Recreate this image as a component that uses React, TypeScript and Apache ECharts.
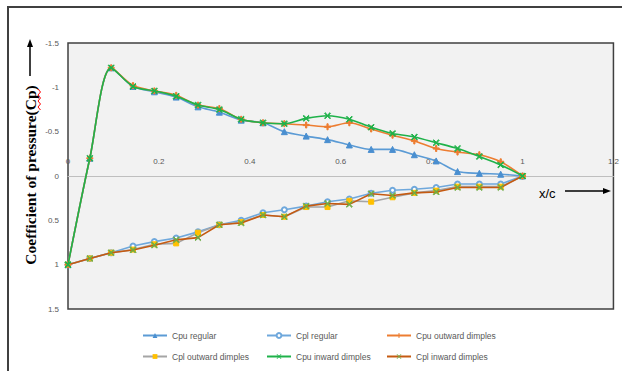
import React, { useEffect, useRef } from "react";
import * as echarts from "echarts";

const xPositions = [0, 0.048, 0.095, 0.143, 0.19, 0.238, 0.286, 0.333, 0.381, 0.429, 0.476, 0.524, 0.571, 0.619, 0.667, 0.714, 0.762, 0.81, 0.857, 0.905, 0.952, 1];

const cpuRegular = [1, -0.2, -1.22, -1.01, -0.95, -0.89, -0.78, -0.72, -0.63, -0.6, -0.5, -0.45, -0.41, -0.35, -0.3, -0.3, -0.24, -0.17, -0.05, -0.03, -0.02, 0];
const cplRegular = [1, 0.93, 0.865, 0.79, 0.74, 0.7, 0.63, 0.55, 0.5, 0.415, 0.38, 0.34, 0.29, 0.26, 0.195, 0.16, 0.15, 0.13, 0.09, 0.09, 0.09, 0];
const cpuOutward = [1, -0.2, -1.22, -1.02, -0.96, -0.91, -0.8, -0.76, -0.64, -0.6, -0.59, -0.575, -0.555, -0.6, -0.53, -0.46, -0.395, -0.31, -0.27, -0.24, -0.16, 0];
const cplOutward = [1, 0.93, 0.865, 0.83, 0.77, 0.76, 0.64, 0.55, 0.52, 0.44, 0.46, 0.35, 0.35, 0.28, 0.29, 0.24, 0.19, 0.165, 0.12, 0.12, 0.12, 0];
const cpuInward = [1, -0.2, -1.22, -1.01, -0.96, -0.9, -0.8, -0.75, -0.64, -0.6, -0.59, -0.65, -0.68, -0.64, -0.55, -0.48, -0.44, -0.375, -0.31, -0.22, -0.125, 0];
const cplInward = [1, 0.93, 0.865, 0.835, 0.78, 0.72, 0.695, 0.55, 0.53, 0.44, 0.46, 0.34, 0.31, 0.32, 0.2, 0.22, 0.19, 0.18, 0.13, 0.13, 0.13, 0];

const seriesNames = ["Cpu regular", "Cpl regular", "Cpu outward dimples", "Cpl outward dimples", "Cpu inward dimples", "Cpl inward dimples"];

const PLUS = "path://M4,0H6V4H10V6H6V10H4V6H0V4H4Z";
const CROSS = "path://M0,1L1,0L5,4L9,0L10,1L6,5L10,9L9,10L5,6L1,10L0,9L4,5Z";

function pairs(ys: number[]) {
  return ys.map((y, i) => [xPositions[i], y]);
}

export default function App() {
  const ref = useRef<HTMLDivElement>(null);
  useEffect(() => {
    const chart = echarts.init(ref.current!, undefined, { renderer: "svg" });
    const font = "Liberation Sans";
    const mk = (
      name: string,
      ys: number[],
      lineColor: string,
      markColor: string,
      symbol: string,
      size: number,
      smooth: number | boolean,
      z: number
    ) => ({
      name,
      type: "line",
      data: pairs(ys),
      smooth,
      symbol,
      symbolSize: size,
      z,
      lineStyle: { color: lineColor, width: 1.6 },
      itemStyle: { color: markColor, borderColor: markColor },
    });
    const legendPos = [
      [142, 331],
      [266, 331],
      [386, 331],
      [142, 352],
      [266, 352],
      [386, 352],
    ];
    chart.setOption({
      animation: false,
      textStyle: { fontFamily: font },
      grid: {
        left: 68,
        top: 43,
        width: 548,
        height: 266,
        show: true,
        backgroundColor: "#f2f2f2",
        borderColor: "#404040",
        borderWidth: 1.5,
      },
      xAxis: {
        type: "value",
        min: 0,
        max: 1.2,
        interval: 0.2,
        position: "top",
        offset: -133,
        axisLine: { show: true, onZero: false, lineStyle: { color: "#bfbfbf", width: 1 } },
        axisTick: { show: false },
        splitLine: { show: false },
        axisLabel: { fontSize: 8, color: "#595959", margin: 11 },
      },
      yAxis: {
        type: "value",
        min: -1.5,
        max: 1.5,
        interval: 0.5,
        inverse: true,
        axisLine: { show: false },
        axisTick: { show: false },
        splitLine: { show: false },
        axisLabel: { fontSize: 8, color: "#595959", margin: 9 },
      },
      legend: seriesNames.map((n, i) => ({
        data: [n],
        left: legendPos[i][0],
        top: legendPos[i][1],
        itemWidth: 24,
        itemHeight: 6,
        itemGap: 4,
        padding: 0,
        textStyle: { fontSize: 8.5, color: "#595959", fontFamily: font },
      })),
      series: [
        mk(seriesNames[0], cpuRegular, "#5b9bd5", "#4a8fd0", "triangle", 6, 0.3, 3),
        mk(seriesNames[1], cplRegular, "#6fa8dc", "#6fa8dc", "emptyCircle", 5, false, 2),
        mk(seriesNames[2], cpuOutward, "#ed7d31", "#ed7d31", PLUS, 6, 0.3, 4),
        mk(seriesNames[3], cplOutward, "#a5a5a5", "#ffc000", "rect", 5, false, 3),
        mk(seriesNames[4], cpuInward, "#1fb24a", "#1fb24a", CROSS, 6, 0.3, 5),
        mk(seriesNames[5], cplInward, "#c55a11", "#70ad47", CROSS, 6, false, 4),
      ],
      graphic: [
        {
          type: "polyline",
          shape: { points: [[8, 371], [8, 7], [622, 7]] },
          style: { stroke: "#404040", lineWidth: 2, fill: "none" },
        },
        {
          type: "text",
          x: 30,
          y: 175,
          rotation: Math.PI / 2,
          style: {
            text: "Coefficient of pressure(Cp)",
            fontFamily: "Liberation Serif",
            fontSize: 15.5,
            fontWeight: "bold",
            fill: "#000",
            align: "center",
            verticalAlign: "middle",
          },
        },
        {
          type: "polyline",
          shape: { points: [[38, 89], [40.5, 92], [38, 95], [40.5, 98], [38, 101], [40.5, 104], [38, 107], [40.5, 110]] },
          style: { stroke: "#ff0000", lineWidth: 1, fill: "none" },
        },
        {
          type: "line",
          shape: { x1: 30, y1: 76, x2: 30, y2: 46 },
          style: { stroke: "#000", lineWidth: 1.5 },
        },
        {
          type: "polygon",
          shape: { points: [[30, 39], [27, 47], [33, 47]] },
          style: { fill: "#000" },
        },
        {
          type: "text",
          x: 539,
          y: 193,
          style: {
            text: "x/c",
            fontFamily: "Liberation Sans",
            fontSize: 13,
            fill: "#000",
            verticalAlign: "middle",
          },
        },
        {
          type: "line",
          shape: { x1: 565, y1: 191, x2: 604, y2: 191 },
          style: { stroke: "#000", lineWidth: 1.5 },
        },
        {
          type: "polygon",
          shape: { points: [[611, 191], [603, 188], [603, 194]] },
          style: { fill: "#000" },
        },
      ],
    });
    return () => chart.dispose();
  }, []);
  return (
    <div
      ref={ref}
      style={{ position: "fixed", left: 0, top: 0, width: 622, height: 371, background: "#fff" }}
    />
  );
}
